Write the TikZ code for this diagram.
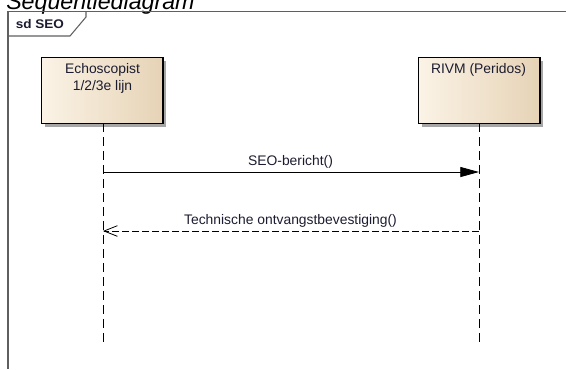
\documentclass[tikz,border=0pt]{standalone}
\usepackage{fontspec}
\setmainfont{Liberation Sans}
\usetikzlibrary{arrows.meta,shadows}
\definecolor{framegray}{HTML}{606060}
\definecolor{boxleft}{HTML}{FBF3E6}
\definecolor{boxright}{HTML}{E6D3B6}
\definecolor{txt}{HTML}{1C1C30}
\tikzset{
  px/.style={x=0.75pt,y=-0.75pt},
  lifebox/.style={draw=black,line width=1.1pt,left color=boxleft,right color=boxright,
    minimum width=91pt,minimum height=49.5pt,anchor=north west,inner sep=0pt,
    drop shadow={shadow xshift=2.5pt,shadow yshift=-2.5pt,fill=gray!70,opacity=1}},
  lifeline/.style={draw=black,line width=0.6pt,dash pattern=on 7pt off 3.5pt},
  msg/.style={draw=black,line width=0.6pt},
  lbl/.style={font=\fontsize{10.4}{12}\selectfont,text=txt,anchor=base,inner sep=0pt},
}
\begin{document}
\begin{tikzpicture}[px]
\useasboundingbox (0,0) rectangle (566,369);
\clip (0,0) rectangle (566,369);
% title
\node[anchor=base west,inner sep=0pt,font=\fontsize{17.4}{20}\selectfont\itshape] (title) at (6,9) {Sequentiediagram};
% frame
\draw[framegray,line width=1.2pt] (8,369) -- (8,11.5) -- (566,11.5);
\draw[framegray,line width=0.8pt] (8,36) -- (70,36) -- (86,17) -- (86,11.5);
\node[anchor=base west,inner sep=0pt,font=\fontsize{9.4}{11}\selectfont\bfseries,text=txt,xscale=1.08] (sd) at (15.5,28.5) {sd SEO};
% lifeline heads
\node[lifebox] (a) at (41,57) {};
\node[lifebox] (b) at (418,57) {};
\node[lbl] (at1) at (102.5,73) {Echoscopist};
\node[lbl] (at2) at (102.5,90) {1/2/3e lijn};
\node[lbl] (bt) at (478.5,73) {RIVM (Peridos)};
% lifelines
\coordinate (aend) at (103,343);
\coordinate (bend) at (479,343);
\draw[lifeline] (103,123) -- (aend);
\draw[lifeline] (479,123) -- (bend);
% messages
\coordinate (m1a) at (103,172);
\coordinate (m1b) at (479,172);
\draw[msg,-{Triangle[length=14pt,width=7.5pt]}] (m1a) -- (m1b);
\node[lbl] (m1) at (290.5,165) {SEO-bericht()};
\coordinate (m2a) at (479,231);
\coordinate (m2b) at (103,231);
\draw[msg,dash pattern=on 5pt off 2.5pt,-{Straight Barb[length=10pt,width=8pt,line width=0.6pt]}] (m2a) -- (m2b);
\node[lbl] (m2) at (290.5,224) {Technische ontvangstbevestiging()};
\end{tikzpicture}
\end{document}
